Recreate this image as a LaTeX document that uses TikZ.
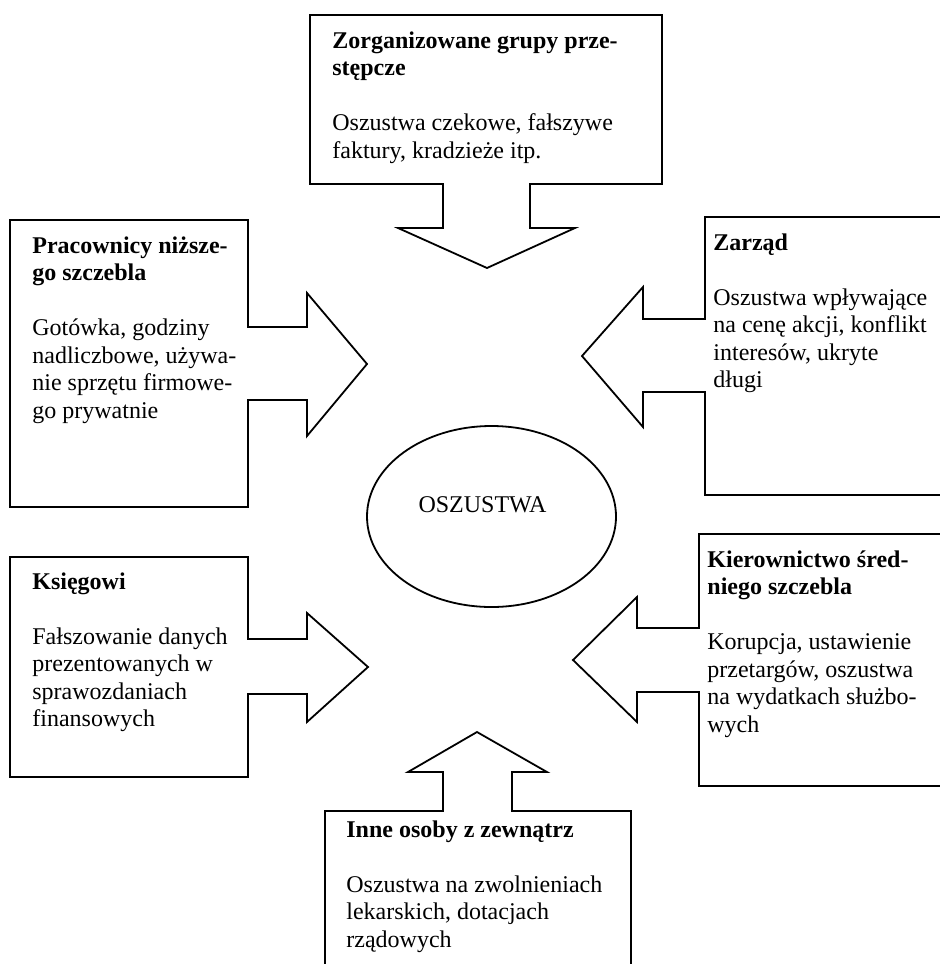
\documentclass[tikz,border=0pt]{standalone}
\usepackage{fontspec}
\setmainfont{Liberation Serif}
\tikzset{
  callout/.style={draw=black, line width=0.9pt, fill=white, line join=miter},
  lbl/.style={anchor=base west, inner sep=0pt, font=\fontsize{12}{13.75}\selectfont},
}
\newcommand{\txtblock}[1]{\vtop{\baselineskip=13.75pt\lineskiplimit=-20pt\lineskip=0pt #1}}
\begin{document}
\begin{tikzpicture}[x=0.5pt,y=-0.5pt]
\useasboundingbox (0,0) rectangle (940,964);
\clip (0,0) rectangle (940,964);
% callout shapes
\draw[callout] (310,15) -- (662,15) -- (662,184) -- (530,184) -- (530,228) -- (575,228) -- (487,268) -- (398,228) -- (443,228) -- (443,184) -- (310,184) -- cycle;
\draw[callout] (10,220) -- (248,220) -- (248,327) -- (307,327) -- (307,293) -- (367,364) -- (307,436) -- (307,400) -- (248,400) -- (248,507) -- (10,507) -- cycle;
\draw[callout] (950,217) -- (705,217) -- (705,319) -- (643,319) -- (643,287) -- (582,356) -- (643,427) -- (643,392) -- (705,392) -- (705,495) -- (950,495) -- cycle;
\draw[callout] (10,557) -- (248,557) -- (248,639) -- (307,639) -- (307,613) -- (368,667) -- (307,722) -- (307,694) -- (248,694) -- (248,777) -- (10,777) -- cycle;
\draw[callout] (950,534) -- (699,534) -- (699,628) -- (637,628) -- (637,597) -- (573,660) -- (637,722) -- (637,692) -- (699,692) -- (699,786) -- (950,786) -- cycle;
\draw[callout] (325,980) -- (325,811) -- (443,811) -- (443,772) -- (408,772) -- (477,732) -- (547,772) -- (512,772) -- (512,811) -- (631,811) -- (631,980) -- cycle;
% central ellipse
\draw[line width=0.9pt] (491.5,516.5) ellipse [x radius=124.5, y radius=90.5];
\node[anchor=base, inner sep=0pt, font=\fontsize{12}{13.75}\selectfont] (oszustwa) at (482.5,512) {OSZUSTWA};
% texts
\node[lbl] (grupy) at (332,48) {\txtblock{%
  \hbox{\textbf{Zorganizowane grupy prze-}}\hbox{\textbf{stępcze}}\hbox{}%
  \hbox{Oszustwa czekowe, fałszywe}\hbox{faktury, kradzieże itp.}}};
\node[lbl] (pracownicy) at (32,253) {\txtblock{%
  \hbox{\textbf{Pracownicy niższe-}}\hbox{\textbf{go szczebla}}\hbox{}%
  \hbox{Gotówka, godziny}\hbox{nadliczbowe, używa-}\hbox{nie sprzętu firmowe-}\hbox{go prywatnie}}};
\node[lbl] (zarzad) at (713,250) {\txtblock{%
  \hbox{\textbf{Zarząd}}\hbox{}%
  \hbox{Oszustwa wpływające}\hbox{na cenę akcji, konflikt}\hbox{interesów, ukryte}\hbox{długi}}};
\node[lbl] (ksiegowi) at (32,589) {\txtblock{%
  \hbox{\textbf{Księgowi}}\hbox{}%
  \hbox{Fałszowanie danych}\hbox{prezentowanych w}\hbox{sprawozdaniach}\hbox{finansowych}}};
\node[lbl] (kierownictwo) at (707,567) {\txtblock{%
  \hbox{\textbf{Kierownictwo śred-}}\hbox{\textbf{niego szczebla}}\hbox{}%
  \hbox{Korupcja, ustawienie}\hbox{przetargów, oszustwa}\hbox{na wydatkach służbo-}\hbox{wych}}};
\node[lbl] (inne) at (346,837) {\txtblock{%
  \hbox{\textbf{Inne osoby z zewnątrz}}\hbox{}%
  \hbox{Oszustwa na zwolnieniach}\hbox{lekarskich, dotacjach}\hbox{rządowych}}};
\end{tikzpicture}
\end{document}
